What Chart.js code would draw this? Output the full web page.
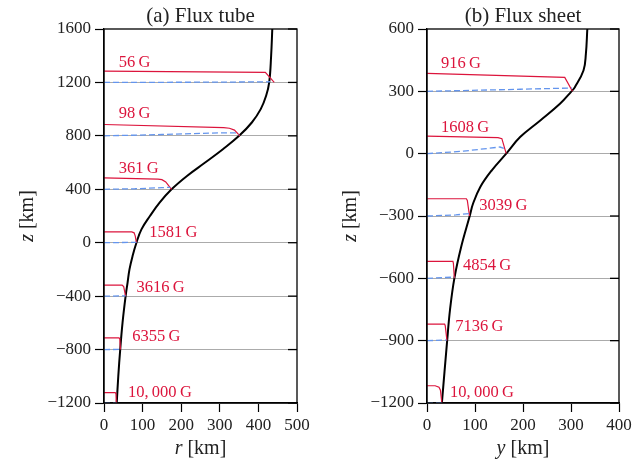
<!DOCTYPE html>
<html>
<head>
<meta charset="utf-8">
<script src="https://cdn.jsdelivr.net/npm/chart.js@4.4.1/dist/chart.umd.min.js"></script>
<style>
  html, body { margin: 0; padding: 0; background: #fff; }
  .panel { position: absolute; top: 0; width: 322px; height: 461px; }
</style>
</head>
<body>
<div class="panel" style="left:0"><canvas id="tube" width="322" height="461"></canvas></div>
<div class="panel" style="left:322px"><canvas id="sheet" width="322" height="461"></canvas></div>
<script>
// (a) flux tube: boundary r(z)
const tubeBoundaryR = [33, 37, 42, 48, 56, 61, 66, 74, 84, 97, 119, 144, 175, 215, 262, 308, 350, 383, 406, 420, 428, 433, 436];
const tubeBoundaryZ = [-1200, -1000, -800, -600, -400, -300, -200, -100, 0, 100, 200, 300, 400, 500, 600, 700, 800, 900, 1000, 1100, 1200, 1400, 1600];

// field strength profiles (red), one per height
const tubeFieldR = [
  [0, 418, 441],
  [0, 310, 325, 338, 352],
  [0, 140, 150, 160, 175],
  [0, 72, 78, 81, 84],
  [0, 47, 51, 56],
  [0, 39, 41, 42.6],
  [0, 29, 31, 32]
];
const tubeFieldZ = [
  [1285, 1275, 1200],
  [885, 861, 857, 843, 800],
  [485, 476, 472, 455, 400],
  [81, 81, 74, 50, 0],
  [-318, -318, -328, -400],
  [-713, -713, -722, -800],
  [-1122, -1122, -1130, -1200]
];
// dashed (blue) profiles
const tubeDashR = [
  [0, 300, 430],
  [0, 150, 300, 340, 350],
  [0, 80, 150, 172],
  [0, 84],
  [0, 56],
  [0, 42],
  [0, 32]
];
const tubeDashZ = [
  [1200, 1202, 1205],
  [800, 810, 822, 822, 806],
  [400, 404, 412, 415],
  [0, 3],
  [-400, -398],
  [-800, -799],
  [-1200, -1199]
];
const tubeLabels = ['56\u2009G', '98\u2009G', '361\u2009G', '1581\u2009G', '3616\u2009G', '6355\u2009G', '10,\u2009000\u2009G'];
const tubeLabelR = [38, 38, 38, 117, 84, 73, 62];
const tubeLabelZ = [1350, 968, 556, 76, -336, -706, -1120];

// (b) flux sheet: boundary y(z)
const sheetBoundaryR = [31, 42, 48, 57, 71, 89, 96, 111, 135, 165, 194, 236, 277, 301, 308, 326, 331, 334];
const sheetBoundaryZ = [-1200, -900, -750, -600, -450, -300, -240, -160, -80, 0, 80, 160, 240, 300, 320, 400, 480, 600];

const sheetFieldR = [
  [0, 287, 303],
  [0, 148, 156, 165],
  [0, 82, 84, 88.6],
  [0, 54, 55, 57],
  [0, 36.7, 38, 41.6],
  [0, 17, 25, 28, 31]
];
const sheetFieldZ = [
  [386, 367, 300],
  [84, 77, 72, 0],
  [-217, -217, -225, -300],
  [-518, -518, -528, -600],
  [-820, -820, -828, -900],
  [-1117, -1117, -1124, -1138, -1200]
];
const sheetDashR = [
  [0, 194, 302],
  [0, 76, 152, 160],
  [0, 60, 88],
  [0, 57],
  [0, 41],
  [0, 31]
];
const sheetDashZ = [
  [300, 310, 316],
  [0, 12, 32, 25],
  [-300, -295, -288],
  [-600, -594],
  [-900, -897],
  [-1200, -1198]
];
const sheetLabels = ['916\u2009G', '1608\u2009G', '3039\u2009G', '4854\u2009G', '7136\u2009G', '10,\u2009000\u2009G'];
const sheetLabelR = [29, 29, 109, 75, 59, 48];
const sheetLabelZ = [434, 124, -249, -539, -833, -1150];

const RED = '#dc143c';
const BLUE = '#6495ed';
const SERIF = '"Liberation Serif", "DejaVu Serif", serif';

function pts(xs, zs) {
  return xs.map((x, i) => ({ x: x, y: zs[i] }));
}

function buildDatasets(bR, bZ, fR, fZ, dR, dZ) {
  const sets = [];
  dR.forEach((r, i) => sets.push({
    data: pts(r, dZ[i]), borderColor: BLUE, borderWidth: 1.3,
    borderDash: [6, 3], showLine: true, pointRadius: 0, tension: 0
  }));
  fR.forEach((r, i) => sets.push({
    data: pts(r, fZ[i]), borderColor: RED, borderWidth: 1.2,
    showLine: true, pointRadius: 0, tension: 0
  }));
  sets.push({
    data: pts(bR, bZ), borderColor: '#000', borderWidth: 2,
    showLine: true, pointRadius: 0, tension: 0.4
  });
  return sets;
}

function minusFmt(v) {
  return v < 0 ? '\u2212' + Math.abs(v) : String(v);
}

function drawVarTitle(ctx, variable, rest, x, y) {
  const size = 20;
  ctx.font = 'italic ' + size + 'px ' + SERIF;
  const w1 = ctx.measureText(variable).width;
  ctx.font = size + 'px ' + SERIF;
  const w2 = ctx.measureText(rest).width;
  const start = x - (w1 + w2) / 2;
  ctx.textAlign = 'left';
  ctx.textBaseline = 'middle';
  ctx.font = 'italic ' + size + 'px ' + SERIF;
  ctx.fillText(variable, start, y);
  ctx.font = size + 'px ' + SERIF;
  ctx.fillText(rest, start + w1, y);
}

function decor(title, xVar, labels, labelR, labelZ) {
  return {
    id: 'decor',
    afterDraw(chart) {
      const ctx = chart.ctx;
      const a = chart.chartArea;
      const xs = chart.scales.x, ys = chart.scales.y;
      ctx.save();
      // frame
      ctx.strokeStyle = '#000';
      ctx.lineWidth = 1.3;
      ctx.strokeRect(a.left, a.top, a.right - a.left, a.bottom - a.top);
      // inward ticks on the right
      ys.ticks.forEach(t => {
        const py = ys.getPixelForValue(t.value);
        ctx.beginPath();
        ctx.moveTo(a.right - 9, py);
        ctx.lineTo(a.right, py);
        ctx.stroke();
      });
      // field labels
      ctx.fillStyle = RED;
      ctx.font = '16.5px ' + SERIF;
      ctx.textAlign = 'left';
      ctx.textBaseline = 'middle';
      labels.forEach((s, i) => {
        ctx.fillText(s, xs.getPixelForValue(labelR[i]), ys.getPixelForValue(labelZ[i]));
      });
      // titles
      ctx.fillStyle = '#222';
      ctx.font = '21px ' + SERIF;
      ctx.textAlign = 'center';
      ctx.fillText(title, (a.left + a.right) / 2, 16);
      drawVarTitle(ctx, xVar, ' [km]', (a.left + a.right) / 2, 449);
      ctx.save();
      ctx.translate(a.left - 76, (a.top + a.bottom) / 2);
      ctx.rotate(-Math.PI / 2);
      drawVarTitle(ctx, 'z', ' [km]', 0, 0);
      ctx.restore();
      ctx.restore();
    }
  };
}

function makeChart(id, opts) {
  const yMax = opts.yMax;
  return new Chart(document.getElementById(id), {
    type: 'scatter',
    data: { datasets: opts.datasets },
    options: {
      responsive: false,
      animation: false,
      events: [],
      layout: { padding: { top: 29, right: 25, left: 0, bottom: 0 } },
      plugins: { legend: { display: false }, tooltip: { enabled: false } },
      scales: {
        x: {
          type: 'linear', min: 0, max: opts.xMax,
          ticks: { stepSize: opts.xStep, color: '#222', padding: 3, font: { family: SERIF, size: 17 } },
          grid: { drawOnChartArea: false, tickLength: 9, tickColor: '#000', tickWidth: 1.2 },
          border: { color: '#000', width: 1.3 },
          afterFit(s) { s.height = 58; }
        },
        y: {
          type: 'linear', min: opts.yMin, max: yMax,
          ticks: { stepSize: opts.yStep, color: '#222', padding: 4, font: { family: SERIF, size: 17 },
                   callback: v => minusFmt(v) },
          grid: {
            color: c => (c.tick && c.tick.value === yMax) ? 'rgba(0,0,0,0)' : '#ababab',
            lineWidth: 1, tickLength: 9, tickColor: '#000', tickWidth: 1.2
          },
          border: { color: '#000', width: 1.3 },
          afterFit(s) { s.width = opts.yWidth; }
        }
      }
    },
    plugins: [decor(opts.title, opts.xVar, opts.labels, opts.labelR, opts.labelZ)]
  });
}

makeChart('tube', {
  datasets: buildDatasets(tubeBoundaryR, tubeBoundaryZ, tubeFieldR, tubeFieldZ, tubeDashR, tubeDashZ),
  xMax: 500, xStep: 100, yMin: -1200, yMax: 1600, yStep: 400, yWidth: 104,
  title: '(a) Flux tube', xVar: 'r',
  labels: tubeLabels, labelR: tubeLabelR, labelZ: tubeLabelZ
});

makeChart('sheet', {
  datasets: buildDatasets(sheetBoundaryR, sheetBoundaryZ, sheetFieldR, sheetFieldZ, sheetDashR, sheetDashZ),
  xMax: 400, xStep: 100, yMin: -1200, yMax: 600, yStep: 300, yWidth: 105,
  title: '(b) Flux sheet', xVar: 'y',
  labels: sheetLabels, labelR: sheetLabelR, labelZ: sheetLabelZ
});
</script>
</body>
</html>
